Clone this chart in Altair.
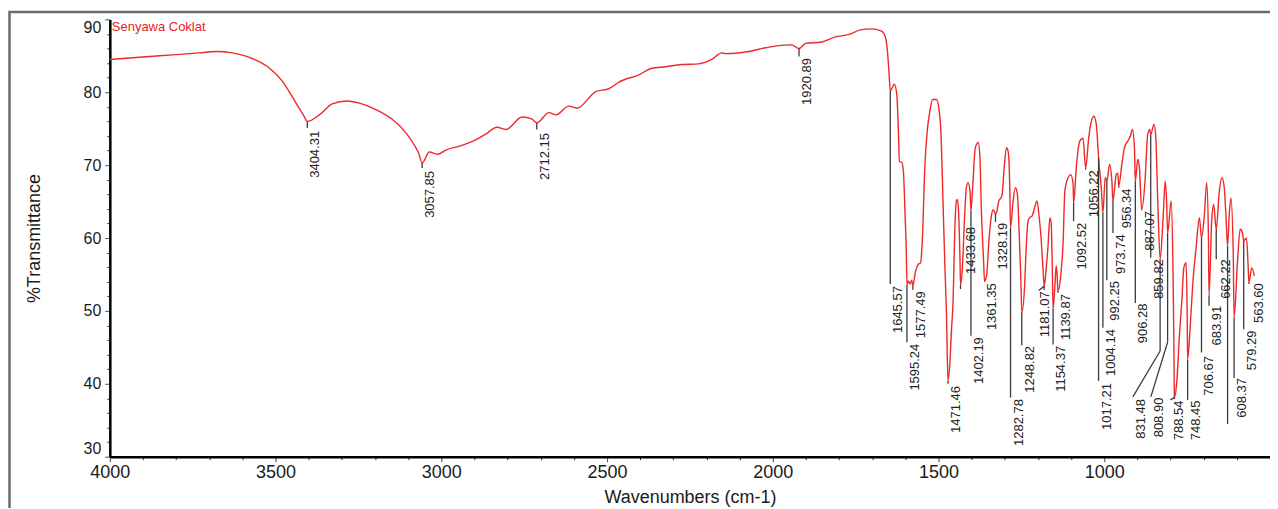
import altair as alt
import pandas as pd

# ---------------- spectrum ----------------
wavenumber = [
    4000, 3849, 3729, 3678, 3630, 3569, 3518, 3479, 3437, 3415, 3404.31, 3368, 3329, 3286, 3247,
    3196, 3148, 3106, 3082, 3068, 3057.85, 3036, 3012, 2985, 2946, 2895, 2865, 2832, 2805, 2756,
    2726, 2712.15, 2675, 2654, 2615, 2591, 2534, 2494, 2464, 2404, 2365, 2323, 2275, 2223, 2184,
    2154, 2142, 2073, 2022, 1983, 1943, 1920.89, 1901, 1853, 1811, 1772, 1733, 1703, 1672, 1661,
    1654, 1649, 1645.57, 1633, 1626, 1621, 1618, 1611, 1606, 1601, 1597, 1595.24, 1591, 1586, 1581,
    1577.49, 1569, 1561, 1554, 1549, 1541, 1534, 1526, 1518, 1506, 1499, 1493, 1486, 1481, 1476,
    1471.46, 1466, 1461, 1456, 1451, 1446, 1443, 1439, 1435, 1433.68, 1428, 1422, 1416, 1411, 1405,
    1402.19, 1396, 1389, 1380, 1375, 1371, 1364, 1361.35, 1355, 1348, 1340, 1335, 1328.19, 1325, 1318,
    1312, 1308, 1302, 1295, 1290, 1285, 1282.78, 1275, 1268, 1262, 1257, 1252, 1248.82, 1240, 1236,
    1230, 1225, 1218, 1210, 1203, 1197, 1190, 1185, 1181.07, 1175, 1170, 1164, 1160, 1157, 1154.37,
    1149, 1145, 1142, 1139.87, 1131, 1124, 1119, 1109, 1101, 1094, 1092.52, 1084, 1074, 1064, 1056.22,
    1047, 1039, 1031, 1024, 1019, 1017.21, 1009, 1004.14, 997, 992.25, 984, 977, 973.74, 964, 959,
    956.34, 947, 939, 929, 921, 915, 909, 906.28, 899, 894, 887.07, 877, 869, 863, 859.82,
    850, 845, 838, 831.48, 823, 816, 812, 808.90, 798, 793, 790, 788.54, 781, 773, 766,
    760, 753, 750, 748.45, 741, 733, 723, 713, 706.67, 698, 691, 686, 683.91, 676, 670,
    662.22, 653, 645, 638, 633, 628, 623, 618, 611, 608.37, 598, 590, 583, 579.29, 571,
    566, 563.60, 555, 547,
]
transmittance = [
    84.5, 85.0, 85.4, 85.6, 85.4, 84.6, 83.3, 81.5, 78.4, 76.8, 76.0, 76.9, 78.4, 78.8, 78.5,
    77.6, 76.3, 74.4, 72.8, 71.6, 70.3, 71.8, 71.5, 72.1, 72.6, 73.5, 74.3, 75.2, 74.9, 76.6,
    76.3, 75.8, 77.2, 76.9, 78.1, 77.8, 80.1, 80.5, 81.4, 82.4, 83.3, 83.5, 83.8, 83.9, 84.5,
    85.4, 85.3, 85.6, 86.1, 86.4, 86.5, 86.0, 86.7, 86.9, 87.6, 87.9, 88.6, 88.7, 88.4, 87.7,
    85.6, 82.4, 80.2, 81.1, 79.7, 74.7, 70.5, 70.4, 69.2, 63.3, 57.8, 53.6, 54.1, 53.7, 54.2,
    53.5, 55.5, 56.4, 56.6, 59.6, 70.1, 74.7, 77.4, 79.0, 79.0, 77.8, 74.7, 64.3, 56.4, 49.6,
    40.4, 42.7, 47.3, 51.4, 61.0, 65.1, 65.3, 63.2, 56.5, 53.6, 55.9, 62.3, 66.9, 67.6, 66.4,
    63.7, 67.8, 72.4, 73.1, 71.0, 64.2, 56.8, 54.1, 54.8, 59.6, 63.2, 63.9, 63.3, 63.5, 65.1,
    65.5, 66.0, 69.6, 72.4, 71.9, 66.9, 61.4, 65.1, 66.9, 66.0, 61.0, 55.0, 49.8, 53.7, 58.2,
    62.3, 62.8, 63.0, 64.2, 65.1, 63.2, 59.6, 55.9, 53.4, 55.9, 58.7, 62.8, 61.9, 56.4, 50.3,
    53.4, 56.2, 54.8, 52.7, 55.0, 59.6, 66.4, 68.3, 68.7, 67.4, 64.8, 69.9, 73.3, 73.7, 69.6,
    73.7, 76.0, 76.7, 75.6, 72.4, 71.0, 66.9, 63.5, 68.3, 67.8, 70.1, 67.8, 65.1, 68.7, 68.9,
    67.1, 70.1, 72.4, 73.3, 74.0, 74.9, 72.4, 67.8, 70.8, 69.6, 63.9, 67.8, 74.2, 74.9, 74.2,
    75.6, 74.2, 64.2, 57.1, 62.3, 67.8, 65.1, 60.7, 65.1, 56.8, 45.9, 38.1, 40.4, 46.8, 51.4,
    55.9, 56.6, 50.0, 43.3, 47.7, 53.7, 58.7, 62.8, 60.0, 63.2, 67.6, 61.0, 52.1, 62.3, 64.6,
    61.2, 66.4, 68.3, 66.9, 63.2, 58.9, 63.2, 65.5, 58.2, 49.1, 56.8, 61.2, 60.7, 59.6, 60.0,
    56.2, 53.9, 55.9, 54.8,
]

# ---------------- peak annotations ----------------
peak_text = ["3404.31", "3057.85", "2712.15", "1920.89", "1645.57", "1595.24", "1577.49", "1471.46",
             "1433.68", "1402.19", "1361.35", "1328.19", "1282.78", "1248.82", "1181.07", "1154.37",
             "1139.87", "1092.52", "1056.22", "1017.21", "1004.14", "992.25", "973.74", "956.34",
             "906.28", "887.07", "859.82", "831.48", "808.90", "788.54", "748.45", "706.67",
             "683.91", "662.22", "", "608.37", "579.29", "563.60"]
peak_wn = [3404.31, 3057.85, 2712.15, 1920.89, 1645.57, 1595.24, 1577.49, 1471.46,
           1433.68, 1402.19, 1361.35, 1328.19, 1282.78, 1248.82, 1181.07, 1154.37,
           1139.87, 1092.52, 1056.22, 1017.21, 1004.14, 992.25, 973.74, 956.34,
           906.28, 887.07, 859.82, 831.48, 808.90, 788.54, 748.45, 706.67,
           683.91, 662.22, 628.0, 608.37, 579.29, 563.60]
peak_t = [76.0, 70.3, 75.8, 86.0, 80.2, 53.6, 53.5, 40.4,
          53.6, 63.7, 54.1, 63.3, 61.4, 49.8, 53.4, 50.3,
          52.7, 64.8, 69.6, 71.0, 63.5, 67.8, 65.1, 67.1,
          67.8, 63.9, 74.2, 57.1, 60.7, 38.1, 43.3, 60.0,
          52.1, 61.2, 58.9, 49.1, 59.6, 53.9]
line_end_t = [75.1, 69.6, 74.9, 84.9, 53.7, 45.7, 52.9, 40.0,
              53.0, 46.6, 54.0, 62.2, 38.1, 45.3, 52.9, 45.4,
              52.5, 62.3, 69.4, 40.4, 47.7, 54.2, 60.7, 66.9,
              51.1, 63.8, 57.3, 44.5, 45.7, 37.9, 37.8, 44.3,
              50.7, 57.1, 34.5, 40.8, 47.5, 53.7]
label_wn = [3404.31, 3057.85, 2712.15, 1920.89, 1645.57, 1595.24, 1577.49, 1471.46,
            1425.6, 1402.19, 1361.35, 1328.19, 1282.78, 1248.82, 1203.0, 1154.37,
            1139.87, 1092.52, 1056.22, 1017.21, 1004.14, 992.25, 973.74, 956.34,
            906.28, 887.07, 859.82, 913.7, 859.5, 799.3, 748.45, 706.67,
            683.91, 656.0, 628.0, 608.37, 579.29, 557.0]
label_t = [74.7, 69.2, 74.4, 84.7, 53.4, 45.5, 52.7, 39.7,
           61.5, 46.4, 53.8, 62.1, 37.9, 45.2, 52.7, 45.2,
           52.3, 62.1, 69.3, 40.1, 47.5, 54.1, 60.5, 66.8,
           51.0, 63.7, 57.1, 37.9, 38.1, 37.7, 37.7, 43.8,
           50.7, 57.1, 34.5, 40.8, 47.3, 53.8]

slant_from_wn = [1181.07, 831.48, 808.90, 788.54]
slant_from_t = [53.4, 44.5, 45.7, 38.1]
slant_to_wn = [1198.0, 913.7, 859.5, 800.5]
slant_to_t = [52.8, 38.2, 38.2, 37.8]

x_ticks = list(range(4000, 599, -100))
y_ticks = list(range(30, 91, 2))

FONT = "Liberation Sans"

spec_df = pd.DataFrame({"w": wavenumber, "t": transmittance})
peak_df = pd.DataFrame({"w": peak_wn, "t": peak_t, "t_end": line_end_t,
                        "lw": label_wn, "lt": label_t, "label": peak_text})
slant_df = pd.DataFrame({"w": slant_from_wn, "t": slant_from_t,
                         "w2": slant_to_wn, "t2": slant_to_t})
one_df = pd.DataFrame({"k": [0]})

x_scale = alt.Scale(domain=[4000, 500], nice=False, zero=False)
y_scale = alt.Scale(domain=[30, 90], nice=False, zero=False)

x_axis = alt.Axis(
    values=x_ticks, format="d", title="Wavenumbers (cm-1)",
    labelExpr="datum.value % 500 === 0 ? datum.label : ''",
    labelFont=FONT, labelFontSize=18, labelColor="#1a1a1a", labelPadding=2,
    labelFlush=False, labelOverlap=False, labelBound=False,
    titleFont=FONT, titleFontSize=18, titleFontWeight="normal", titleColor="#1a1a1a",
    titleY=41, titleBaseline="middle",
    domainColor="#000000", domainWidth=2.5,
    tickColor="#333333", tickWidth=1, tickSize=5,
    tickDash={"condition": {"test": "datum.value % 500 !== 0", "value": [3, 20]}, "value": [1, 0]},
    grid=False,
)
y_axis = alt.Axis(
    values=y_ticks, format="d", title="%Transmittance",
    labelExpr="datum.value % 10 === 0 ? datum.label : ''",
    labelFont=FONT, labelFontSize=16, labelColor="#1a1a1a", labelPadding=4,
    labelFlush=True, labelOverlap=False, labelBound=False,
    titleFont=FONT, titleFontSize=18, titleFontWeight="normal", titleColor="#1a1a1a",
    titleX=-75, titleBaseline="middle",
    domainColor="#000000", domainWidth=2.5,
    tickColor="#333333", tickWidth=1, tickSize=5,
    tickDash={"condition": {"test": "datum.value % 10 !== 0", "value": [3, 20]}, "value": [1, 0]},
    grid=False,
)


def X(field):
    return alt.X(field, type="quantitative", scale=x_scale, axis=x_axis)


def Y(field):
    return alt.Y(field, type="quantitative", scale=y_scale, axis=y_axis)


frame = alt.Chart(one_df).mark_rect(fillOpacity=0, stroke="#6b6b6b", strokeWidth=2.5).encode(
    x=alt.value(-100.5), x2=alt.value(3000), y=alt.value(-7.5), y2=alt.value(3000)
)

curve = alt.Chart(spec_df).mark_line(
    color="#f02828", strokeWidth=1.4, interpolate="monotone"
).encode(x=X("w"), y=Y("t"), order="w")

leaders = alt.Chart(peak_df).mark_rule(color="#3c3c3c", strokeWidth=1.3).encode(
    x=X("w"), y=Y("t"), y2="t_end"
)

slants = alt.Chart(slant_df).mark_rule(color="#3c3c3c", strokeWidth=1.3).encode(
    x=X("w"), y=Y("t"), x2="w2", y2="t2"
)

labels = alt.Chart(peak_df).mark_text(
    angle=270, align="right", baseline="top", dy=2, font=FONT, fontSize=13, color="#222222"
).encode(x=X("lw"), y=Y("lt"), text="label")

title = alt.Chart(one_df).mark_text(
    align="left", baseline="middle", font=FONT, fontSize=13, color="#e8202a"
).encode(x=alt.value(2), y=alt.value(8), text=alt.value("Senyawa Coklat"))

chart = alt.layer(frame, curve, leaders, slants, labels, title).properties(
    width=1162, height=438,
    autosize=alt.AutoSizeParams(type="none"),
    padding={"left": 102, "top": 11, "right": 0, "bottom": 51},
).configure_view(stroke=None)

chart.save("out.html", embed_options={"renderer": "svg", "actions": False})
